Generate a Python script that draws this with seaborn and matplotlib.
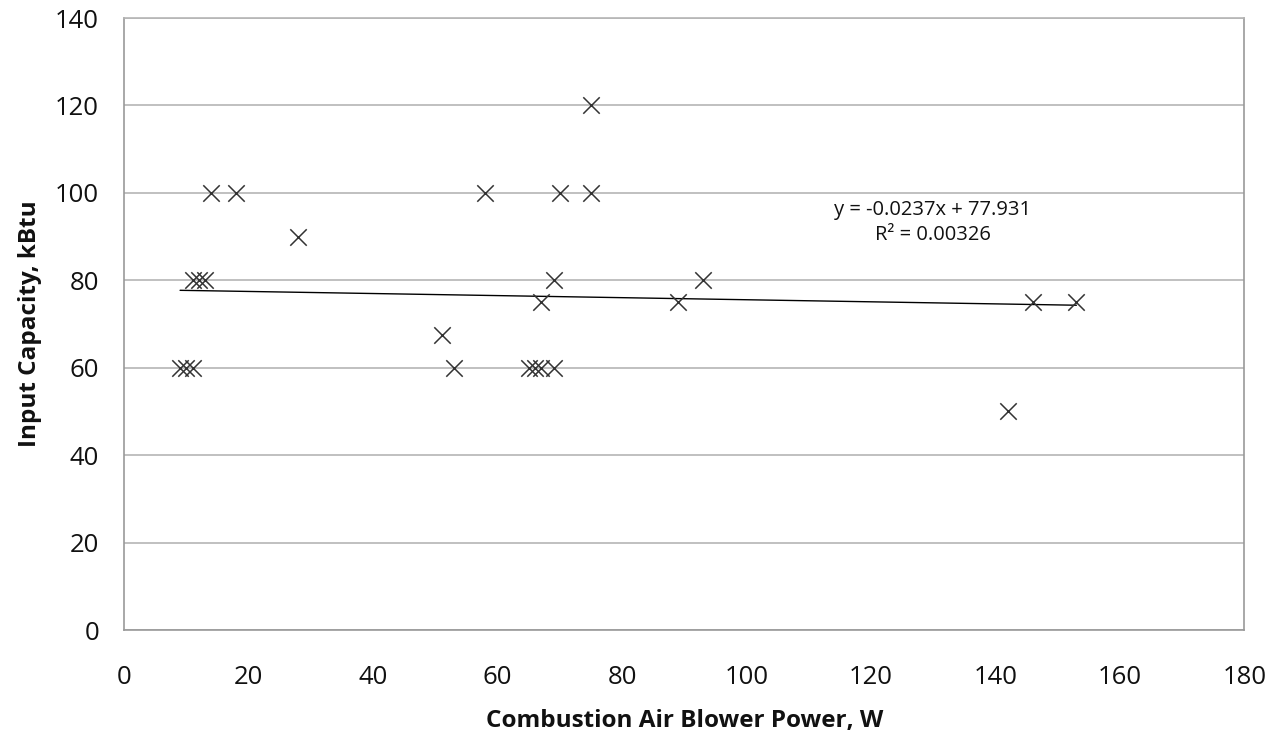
import numpy as np
import pandas as pd
import matplotlib
matplotlib.use("Agg")
import matplotlib.pyplot as plt
import seaborn as sns

blower_power = [9, 10, 11, 11, 12, 13, 14, 18, 28, 51, 53, 58, 65, 66, 67, 69,
                67, 69, 70, 75, 75, 89, 93, 142, 146, 153]
input_capacity = [60, 60, 60, 80, 80, 80, 100, 100, 90, 67.5, 60, 100, 60, 60, 60, 60,
                  75, 80, 100, 120, 100, 75, 80, 50, 75, 75]
trend_slope = -0.0237
trend_intercept = 77.931
eq_text = "y = -0.0237x + 77.931\nR² = 0.00326"
x_ticks = [0, 20, 40, 60, 80, 100, 120, 140, 160, 180]
y_ticks = [0, 20, 40, 60, 80, 100, 120, 140]

df = pd.DataFrame({"x": blower_power, "y": input_capacity})

sns.set_theme(style="white")
plt.rcParams['font.family'] = ['Open Sans', 'DejaVu Sans']

fig = plt.figure(figsize=(12.79, 7.40), dpi=100)
ax = fig.add_axes([0.097, 0.1486, 0.876, 0.827])

ax.yaxis.grid(True, color="#b5b5b5", linewidth=1.2)
ax.set_axisbelow(True)

sns.scatterplot(data=df, x="x", y="y", marker="x", s=140, color="#333333",
                linewidth=1.1, ax=ax, zorder=3)

xs = np.array([min(blower_power), max(blower_power)])
sns.lineplot(x=xs, y=trend_slope * xs + trend_intercept, color="black",
             linewidth=1.0, ax=ax, zorder=2)

ax.text(129.9, 93.2, eq_text, ha="center", va="center", fontsize=14.5,
        linespacing=1.35, color="#111111")

ax.set_xlim(0, 180)
ax.set_ylim(0, 140)
ax.set_xticks(x_ticks)
ax.set_yticks(y_ticks)
ax.tick_params(axis="both", labelsize=18.5, colors="#111111", length=10,
               width=1, direction="inout", color="#999999")
ax.tick_params(axis="x", pad=20)
ax.tick_params(axis="y", pad=13)
for side in ["left", "bottom", "right", "top"]:
    ax.spines[side].set_color("#999999")
    ax.spines[side].set_linewidth(1.2)
ax.spines["top"].set_color("#b5b5b5")

ax.set_xlabel("Combustion Air Blower Power, W", fontsize=17.5, fontweight="bold",
              labelpad=14, color="#111111")
ax.set_ylabel("Input Capacity, kBtu", fontsize=17.5, fontweight="bold",
              labelpad=9, color="#111111")

fig.savefig("out.png", dpi=100)
